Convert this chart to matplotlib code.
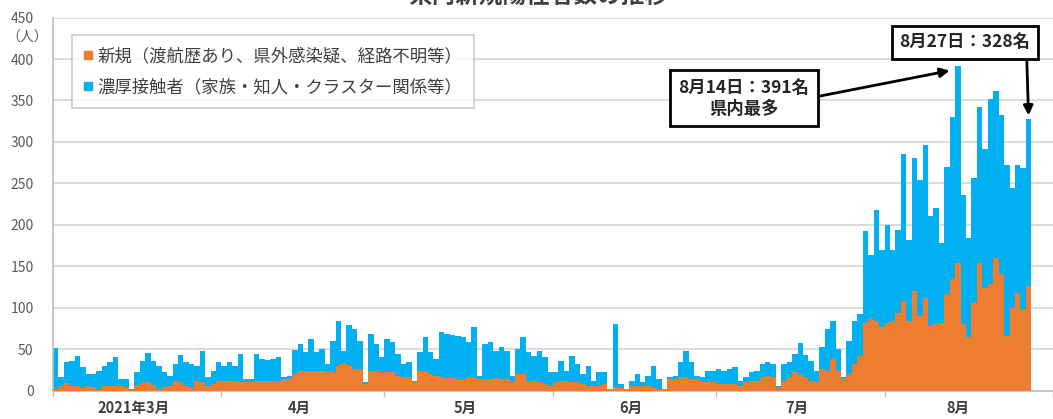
import matplotlib
matplotlib.use("Agg")
import matplotlib.pyplot as plt
from matplotlib.lines import Line2D
import numpy as np

plt.rcParams['font.family'] = ['Noto Sans CJK JP', 'DejaVu Sans']

# daily totals (top of the blue bar), 2021-03-01 .. 2021-08-27
total_mar = [51, 16, 34, 36, 42, 28, 20, 20, 24, 30, 34, 40, 14, 14, 2, 22,
             36, 45, 36, 30, 22, 18, 32, 43, 34, 32, 30, 48, 16, 24, 35]
total_apr = [30, 34, 30, 44, 14, 14, 44, 38, 37, 38, 40, 16, 18, 49, 56,
             46, 62, 46, 50, 32, 60, 84, 48, 79, 74, 60, 10, 68, 56, 40]
total_may = [62, 59, 44, 32, 34, 12, 46, 64, 46, 38, 70, 68, 67, 66, 64, 58,
             77, 18, 56, 58, 48, 52, 48, 18, 50, 64, 46, 42, 48, 40, 22]
total_jun = [22, 36, 24, 42, 32, 20, 30, 12, 22, 22, 2, 80, 8, 2, 12,
             20, 10, 18, 30, 14, 2, 16, 18, 34, 48, 34, 18, 16, 24, 24]
total_jul = [26, 23, 26, 28, 12, 16, 22, 24, 32, 35, 32, 6, 32, 34, 44, 57,
             43, 36, 24, 52, 74, 84, 50, 16, 60, 84, 92, 192, 164, 218, 170]
total_aug = [200, 170, 194, 286, 182, 280, 254, 296, 210, 220, 178, 270, 330, 391,
             236, 184, 256, 342, 292, 352, 361, 332, 272, 244, 272, 268, 328]

# 新規 (orange part)
new_mar = [2, 6, 9, 6, 6, 3, 5, 4, 1, 6, 6, 6, 5, 3, 1, 6,
           9, 10, 7, 2, 4, 6, 11, 10, 5, 3, 12, 10, 6, 8, 11]
new_apr = [12, 12, 12, 10, 10, 10, 12, 12, 12, 12, 12, 14, 14, 20, 24,
           24, 24, 24, 24, 22, 22, 30, 32, 30, 26, 26, 8, 24, 24, 22]
new_may = [22, 22, 18, 16, 16, 10, 24, 24, 20, 18, 16, 15, 15, 14, 14, 16,
           16, 14, 14, 14, 15, 14, 14, 10, 20, 20, 12, 12, 10, 8, 6]
new_jun = [10, 12, 12, 10, 10, 8, 6, 6, 6, 8, 2, 4, 3, 2, 6,
           6, 5, 5, 3, 2, 2, 14, 14, 16, 16, 14, 14, 10, 10, 10]
new_jul = [8, 8, 8, 8, 6, 10, 12, 12, 16, 18, 16, 3, 12, 16, 22, 19,
           16, 12, 10, 26, 24, 38, 24, 14, 20, 32, 42, 82, 86, 84, 77]
new_aug = [82, 84, 94, 108, 84, 120, 90, 112, 78, 80, 81, 116, 134, 154,
           80, 64, 106, 154, 124, 128, 160, 140, 66, 100, 118, 98, 126]

month_labels = ['2021年3月', '4月', '5月', '6月', '7月', '8月']
month_days = [31, 30, 31, 30, 31, 31]

legend_labels = ['新規（渡航歴あり、県外感染疑、経路不明等）',
                 '濃厚接触者（家族・知人・クラスター関係等）']

ORANGE = '#ED7D31'
BLUE = '#00B0F0'
GRID = '#D9D9D9'
TXT = '#404040'

total = np.array(total_mar + total_apr + total_may + total_jun + total_jul + total_aug)
new = np.array(new_mar + new_apr + new_may + new_jun + new_jul + new_aug)
x = np.arange(len(total)) + 0.5

fig = plt.figure(figsize=(10.53, 4.19), dpi=100)
ax = fig.add_axes([0.0503, 0.068, 0.9497, 0.890])

# gap-less daily columns: drawn as post-step areas so no seams show between days
edges = np.arange(len(total) + 1)
ax.fill_between(edges, np.append(new, new[-1]), np.append(total, total[-1]),
                step='post', color=BLUE, linewidth=0, zorder=2)
ax.fill_between(edges, 0, np.append(new, new[-1]),
                step='post', color=ORANGE, linewidth=0, zorder=3)

bounds = np.cumsum([0] + month_days)
ax.set_xlim(0, 183)
ax.set_ylim(0, 450)

ax.set_xticks(bounds)
ax.set_xticklabels([])
ax.tick_params(axis='x', which='major', length=4, color='#BFBFBF', width=1)
label_pos = (bounds[:-1] + bounds[1:]) / 2 - 0.7
label_pos[-1] -= 1.3
ax.set_xticks(label_pos, minor=True)
ax.set_xticklabels(month_labels, minor=True, fontsize=10.5, fontweight='bold', color=TXT)
ax.tick_params(axis='x', which='minor', length=0, pad=7)

ax.set_yticks(range(0, 451, 50))
ax.tick_params(axis='y', length=0, pad=14, labelsize=10, labelcolor='#595959')
ax.yaxis.grid(True, color=GRID, linewidth=1.3)
ax.set_axisbelow(True)

for s in ['top', 'right']:
    ax.spines[s].set_visible(False)
for s in ['left', 'bottom']:
    ax.spines[s].set_color('#BFBFBF')
    ax.spines[s].set_linewidth(1.2)

fig.text(27 / 1053, 1 - 38 / 419, '（人）', ha='center', va='center', fontsize=10, color='#595959')

handles = [Line2D([], [], marker='s', ls='none', color=ORANGE, markersize=5.5),
           Line2D([], [], marker='s', ls='none', color=BLUE, markersize=5.5)]
leg = ax.legend(handles, legend_labels, loc='upper left',
                bbox_to_anchor=(72 / 1053, 1 - 35 / 419), bbox_transform=fig.transFigure,
                frameon=True, fancybox=False, fontsize=12.5, handlelength=0.5,
                handletextpad=0.25, borderpad=0.7, labelspacing=0.75, borderaxespad=0)
leg.get_frame().set_edgecolor('#BFBFBF')
leg.get_frame().set_linewidth(1.2)
for t in leg.get_texts():
    t.set_color(TXT)

# callouts
i14 = int(np.argmax(total))
ax.annotate(f'8月{i14 - bounds[5] + 1}日：{total[i14]}名\n県内最多',
            xy=(x[i14] - 1.5, total[i14] - 5), xytext=(127.1, 352.8),
            ha='center', va='center', fontsize=12.5, fontweight='bold', color='#262626',
            linespacing=1.2,
            bbox=dict(boxstyle='square,pad=0.5', fc='white', ec='black', lw=2),
            arrowprops=dict(arrowstyle='-|>', color='black', lw=2, relpos=(1, 0.5),
                            shrinkA=0, shrinkB=0, mutation_scale=14),
            annotation_clip=False, zorder=5)

il = len(total) - 1
ax.annotate(f'8月{il - bounds[5] + 1}日：{total[il]}名',
            xy=(x[il], total[il] + 4), xytext=(167.8, 420),
            ha='center', va='center', fontsize=12.5, fontweight='bold', color='#262626',
            bbox=dict(boxstyle='square,pad=0.45', fc='white', ec='black', lw=2),
            arrowprops=dict(arrowstyle='-|>', color='black', lw=2, relpos=(0.97, 0),
                            shrinkA=0, shrinkB=0, mutation_scale=14),
            annotation_clip=False, zorder=5)

# title is cut off at the top edge in the original image
fig.text(538 / 1053, 1 - 3 / 419, '県内新規陽性者数の推移', ha='center', va='baseline',
         fontsize=17, fontweight='bold', color=TXT)

fig.savefig('out.png', dpi=100)
